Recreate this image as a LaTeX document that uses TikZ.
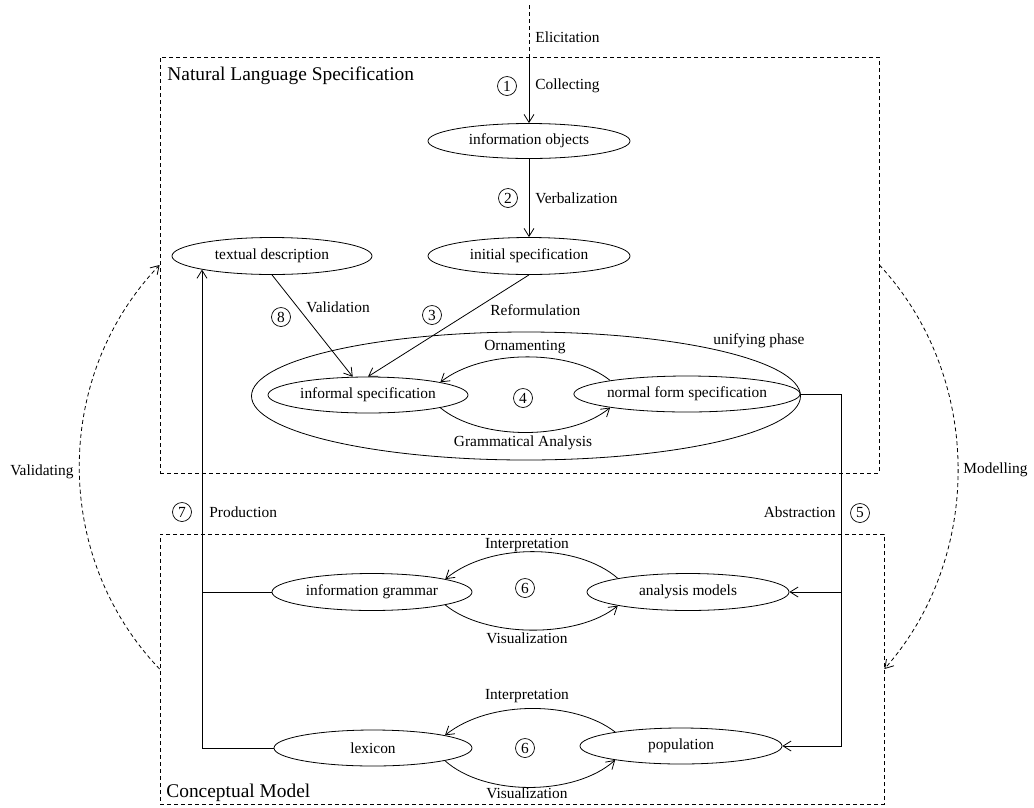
\documentclass[tikz,border=0pt]{standalone}
\usepackage{fontspec}
\setmainfont{Liberation Serif}
\usetikzlibrary{arrows.meta,shapes.geometric}
\newcommand\smallfnt{\fontsize{15.4}{18}\selectfont}
\newcommand\bigfnt{\fontsize{19.4}{22}\selectfont}
\begin{document}
\begin{tikzpicture}[x=1pt,y=-1pt,line width=0.8pt,
  lbl/.style={font=\smallfnt,inner sep=0pt},
  title/.style={font=\bigfnt,inner sep=0pt},
  oval/.style={draw,ellipse,inner sep=0pt,font=\smallfnt,minimum height=37pt},
  num/.style={draw,circle,inner sep=0pt,minimum size=19pt,line width=0.7pt,font=\smallfnt},
  arr/.style={-{Straight Barb[length=8pt,width=10pt]}},
  dsh/.style={dash pattern=on 4pt off 3pt},
  box/.style={draw,dsh,inner sep=0pt}]
\useasboundingbox (0,0) rectangle (1034,807);
% boxes
\node[box,minimum width=719pt,minimum height=416pt] (nls) at (519.5,265) {};
\node[box,minimum width=724pt,minimum height=270pt] (cm) at (522,669) {};
\node[title,anchor=west] (tnls) at (167,76) {Natural Language Specification};
\node[title,anchor=west] (tcm) at (166,793) {Conceptual Model};
% ellipses
\node[oval,minimum width=202pt,minimum height=35pt] (io) at (529,141) {information objects};
\node[oval,minimum width=202pt] (is) at (529,256) {initial specification};
\node[oval,minimum width=200pt] (td) at (272,256) {textual description};
\node[draw,ellipse,minimum width=549pt,minimum height=128pt] (uni) at (526,396) {};
\node[oval,minimum width=200pt,minimum height=36pt] (inf) at (368,395) {informal specification};
\node[oval,minimum width=200pt,minimum height=36pt] (nfs) at (687,394) {normal form specification};
\node[oval,minimum width=200pt] (ig) at (372,592) {information grammar};
\node[oval,minimum width=202pt] (am) at (688,592) {analysis models};
\node[oval,minimum width=198pt,minimum height=36pt] (lex) at (373,748) {lexicon};
\node[oval,minimum width=202pt,minimum height=36pt] (pop) at (681,746) {population};
% numbers
\node[num] (n1) at (507,86) {1};
\node[num] (n2) at (508,198) {2};
\node[num] (n3) at (432,315) {3};
\node[num] (n8) at (281,317) {8};
\node[num] (n4) at (523,398) {4};
\node[num] (n7) at (182,512) {7};
\node[num] (n5) at (860,513) {5};
\node[num] (n6a) at (525,588) {6};
\node[num] (n6b) at (525,748) {6};
% labels
\node[lbl,anchor=west] (lel) at (535,37) {Elicitation};
\node[lbl,anchor=west] (lco) at (535,86) {Collecting};
\node[lbl,anchor=west] (lve) at (535,198) {Verbalization};
\node[lbl,anchor=west] (lva) at (306,307) {Validation};
\node[lbl,anchor=west] (lre) at (490,310) {Reformulation};
\node[lbl,anchor=west] (lun) at (713,341) {unifying phase};
\node[lbl] (lor) at (525,347) {Ornamenting};
\node[lbl] (lga) at (523,443) {Grammatical Analysis};
\node[lbl,anchor=west] (lpr) at (209,512) {Production};
\node[lbl,anchor=east] (lab) at (836,512) {Abstraction};
\node[lbl] (li1) at (527,545) {Interpretation};
\node[lbl] (lv1) at (527,638) {Visualization};
\node[lbl] (li2) at (527,696) {Interpretation};
\node[lbl] (lv2) at (527,793) {Visualization};
\node[lbl,anchor=west] (lmo) at (963,470) {Modelling};
\node[lbl,anchor=east] (lvd) at (74,472) {Validating};
% coordinates
\coordinate (top) at (529,5);
\coordinate (p7) at (202,0);
\coordinate (p5) at (841,0);
% connectors
\draw[dsh] (top) -- (top |- nls.north);
\draw[arr] (top |- nls.north) -- (io.north);
\draw[arr] (io.south) -- (is.north);
\draw[arr] (is.south) -- (inf.north);
\draw[arr] (td.south) -- (inf.130);
\draw[arr] (nfs.170) .. controls +(-40,-32) and +(42,-33) .. (inf.10);
\draw[arr] (inf.-10) .. controls +(40,33) and +(-40,33) .. (nfs.190);
\draw[arr] (am.169) .. controls +(-40,-35) and +(45,-37) .. (ig.10);
\draw[arr] (ig.-10) .. controls +(40,33) and +(-40,33) .. (am.191);
\draw[arr] (pop.168) .. controls +(-40,-31) and +(45,-36) .. (lex.10);
\draw[arr] (lex.-10) .. controls +(40,36) and +(-40,36) .. (pop.192);
\draw (ig.west) -- (ig.west -| p7);
\draw[arr] (lex.west) -- (lex.west -| p7) -- (p7 |- td.191);
\draw[arr] (nfs.east) -| (p5 |- pop.east) -- (pop.east);
\draw[arr] (p5 |- am.east) -- (am.east);
\draw[arr,dsh] (cm.west) .. controls +(-107,-112) and +(-107,112) .. (nls.west);
\draw[arr,dsh] (nls.east) .. controls +(104,112) and +(99,-112) .. (cm.east);
\end{tikzpicture}
\end{document}
